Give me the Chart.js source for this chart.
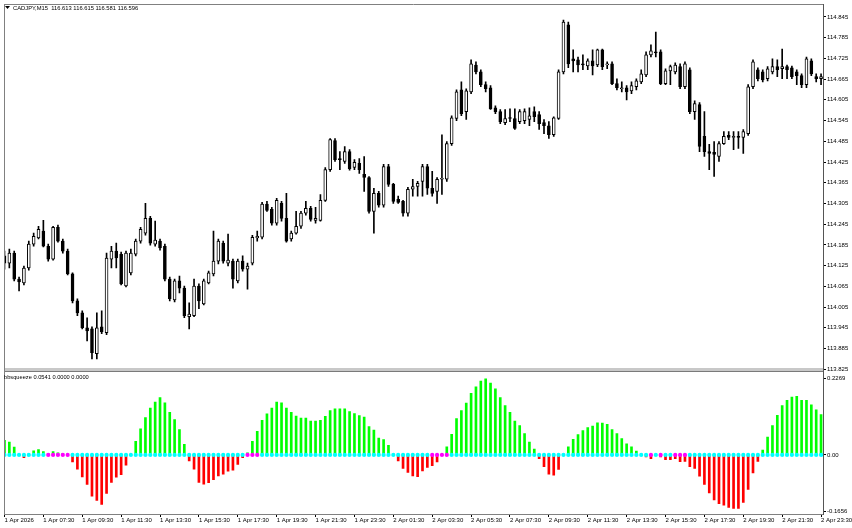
<!DOCTYPE html>
<html lang="en">
<head>
<meta charset="UTF-8">
<title>CADJPY,M15 bbsqueeze</title>
<script src="https://cdn.jsdelivr.net/npm/chart.js@4.4.1/dist/chart.umd.min.js"></script>
<style>
    html, body { margin: 0; padding: 0; background: #ffffff; }
    #wrap { position: relative; width: 852px; height: 528px; }
</style>
</head>
<body>
<div id="wrap"><canvas id="chart" width="852" height="528"></canvas></div>
<script>
// M15 candles, 1 Apr 05:30 .. 2 Apr 23:30
const openP = [
    114.153, 114.132, 114.161, 114.086, 114.075, 114.118, 114.187, 114.205, 114.225, 114.181,
    114.144, 114.236, 114.196, 114.167, 114.101, 114.023, 113.988, 113.945, 113.942, 113.870,
    113.948, 113.931, 114.144, 114.167, 114.158, 114.066, 114.104, 114.158, 114.196, 114.219,
    114.262, 114.187, 114.196, 114.181, 114.086, 114.026, 114.081, 114.060, 113.977, 113.980,
    114.066, 114.014, 114.075, 114.101, 114.138, 114.190, 114.132, 114.138, 114.081, 114.138,
    114.115, 114.132, 114.205, 114.207, 114.303, 114.288, 114.248, 114.305, 114.262, 114.202,
    114.219, 114.239, 114.277, 114.291, 114.256, 114.256, 114.314, 114.403, 114.487, 114.435,
    114.427, 114.455, 114.409, 114.421, 114.389, 114.380, 114.282, 114.334, 114.300, 114.412,
    114.360, 114.317, 114.311, 114.277, 114.346, 114.354, 114.369, 114.412, 114.349, 114.340,
    114.375, 114.375, 114.478, 114.551, 114.634, 114.571, 114.628, 114.706, 114.686, 114.649,
    114.640, 114.582, 114.571, 114.539, 114.553, 114.551, 114.542, 114.545, 114.548, 114.571,
    114.562, 114.539, 114.530, 114.504, 114.551, 114.686, 114.822, 114.724, 114.721, 114.709,
    114.703, 114.718, 114.706, 114.750, 114.706, 114.709, 114.652, 114.637, 114.640, 114.631,
    114.643, 114.657, 114.677, 114.735, 114.744, 114.744, 114.652, 114.689, 114.686, 114.701,
    114.643, 114.692, 114.571, 114.591, 114.499, 114.455, 114.453, 114.441, 114.478, 114.502,
    114.496, 114.499, 114.496, 114.507, 114.643, 114.692, 114.686, 114.666, 114.686, 114.701,
    114.695, 114.701, 114.698, 114.686, 114.675, 114.649, 114.718, 114.672, 114.666
];
const highP = [
    114.167, 114.173, 114.167, 114.092, 114.124, 114.196, 114.219, 114.239, 114.256, 114.187,
    114.239, 114.242, 114.202, 114.173, 114.104, 114.029, 113.994, 113.974, 113.948, 113.988,
    113.994, 114.161, 114.181, 114.190, 114.164, 114.167, 114.173, 114.202, 114.236, 114.305,
    114.268, 114.254, 114.202, 114.187, 114.092, 114.086, 114.095, 114.066, 114.017, 114.086,
    114.072, 114.086, 114.109, 114.225, 114.202, 114.196, 114.216, 114.144, 114.144, 114.153,
    114.132, 114.213, 114.225, 114.308, 114.311, 114.294, 114.320, 114.311, 114.334, 114.225,
    114.282, 114.282, 114.311, 114.297, 114.294, 114.331, 114.409, 114.493, 114.493, 114.455,
    114.470, 114.461, 114.432, 114.435, 114.441, 114.383, 114.349, 114.340, 114.418, 114.418,
    114.363, 114.326, 114.314, 114.352, 114.375, 114.369, 114.418, 114.418, 114.398, 114.380,
    114.504, 114.484, 114.559, 114.634, 114.657, 114.637, 114.721, 114.715, 114.692, 114.657,
    114.646, 114.588, 114.577, 114.577, 114.579, 114.579, 114.577, 114.579, 114.582, 114.585,
    114.571, 114.548, 114.542, 114.556, 114.692, 114.836, 114.830, 114.750, 114.729, 114.735,
    114.724, 114.750, 114.752, 114.752, 114.715, 114.715, 114.666, 114.657, 114.646, 114.657,
    114.666, 114.692, 114.744, 114.764, 114.801, 114.750, 114.695, 114.706, 114.712, 114.709,
    114.715, 114.698, 114.602, 114.597, 114.571, 114.476, 114.484, 114.484, 114.513, 114.513,
    114.513, 114.513, 114.519, 114.649, 114.721, 114.698, 114.692, 114.701, 114.724, 114.721,
    114.752, 114.706, 114.703, 114.692, 114.680, 114.729, 114.724, 114.680, 114.680
];
const lowP = [
    114.115, 114.118, 114.081, 114.052, 114.069, 114.112, 114.181, 114.202, 114.179, 114.138,
    114.141, 114.193, 114.161, 114.098, 114.017, 113.980, 113.942, 113.907, 113.855, 113.855,
    113.928, 113.925, 114.118, 114.118, 114.069, 114.063, 114.098, 114.153, 114.190, 114.213,
    114.184, 114.181, 114.170, 114.081, 114.023, 114.020, 114.046, 113.974, 113.942, 113.977,
    114.000, 114.011, 114.072, 114.095, 114.130, 114.132, 114.124, 114.060, 114.075, 114.109,
    114.057, 114.127, 114.196, 114.202, 114.282, 114.242, 114.242, 114.254, 114.193, 114.196,
    114.216, 114.233, 114.271, 114.254, 114.248, 114.254, 114.311, 114.398, 114.427, 114.403,
    114.421, 114.401, 114.403, 114.392, 114.340, 114.277, 114.219, 114.294, 114.294, 114.354,
    114.305, 114.305, 114.268, 114.268, 114.326, 114.326, 114.326, 114.331, 114.326, 114.305,
    114.331, 114.369, 114.473, 114.545, 114.559, 114.548, 114.623, 114.680, 114.643, 114.628,
    114.577, 114.565, 114.536, 114.533, 114.542, 114.519, 114.536, 114.536, 114.530, 114.542,
    114.519, 114.507, 114.493, 114.499, 114.548, 114.680, 114.698, 114.686, 114.686, 114.692,
    114.692, 114.677, 114.701, 114.692, 114.695, 114.649, 114.634, 114.628, 114.605, 114.623,
    114.634, 114.652, 114.672, 114.729, 114.729, 114.649, 114.649, 114.649, 114.680, 114.637,
    114.637, 114.565, 114.548, 114.455, 114.441, 114.403, 114.383, 114.427, 114.476, 114.490,
    114.461, 114.464, 114.450, 114.502, 114.637, 114.660, 114.657, 114.660, 114.680, 114.672,
    114.666, 114.666, 114.666, 114.649, 114.640, 114.640, 114.675, 114.657, 114.649
];
const closeP = [
    114.132, 114.161, 114.086, 114.078, 114.118, 114.187, 114.210, 114.230, 114.181, 114.144,
    114.236, 114.196, 114.167, 114.101, 114.023, 113.988, 113.945, 113.936, 113.873, 113.945,
    113.933, 114.147, 114.167, 114.147, 114.072, 114.161, 114.161, 114.196, 114.230, 114.262,
    114.190, 114.199, 114.176, 114.086, 114.029, 114.081, 114.060, 113.980, 113.985, 114.066,
    114.023, 114.081, 114.104, 114.138, 114.196, 114.138, 114.141, 114.086, 114.138, 114.115,
    114.124, 114.207, 114.210, 114.303, 114.285, 114.248, 114.314, 114.262, 114.196, 114.219,
    114.239, 114.277, 114.291, 114.259, 114.262, 114.314, 114.403, 114.490, 114.432, 114.432,
    114.455, 114.406, 114.424, 114.403, 114.380, 114.282, 114.334, 114.300, 114.412, 114.360,
    114.311, 114.308, 114.277, 114.346, 114.354, 114.363, 114.412, 114.349, 114.334, 114.375,
    114.378, 114.478, 114.553, 114.628, 114.565, 114.631, 114.709, 114.686, 114.649, 114.637,
    114.579, 114.571, 114.542, 114.551, 114.551, 114.522, 114.571, 114.571, 114.559, 114.556,
    114.536, 114.530, 114.504, 114.553, 114.686, 114.830, 114.709, 114.718, 114.706, 114.706,
    114.718, 114.703, 114.750, 114.701, 114.709, 114.652, 114.640, 114.640, 114.628, 114.646,
    114.660, 114.680, 114.735, 114.747, 114.741, 114.652, 114.689, 114.701, 114.706, 114.643,
    114.709, 114.571, 114.594, 114.470, 114.455, 114.450, 114.447, 114.478, 114.499, 114.496,
    114.499, 114.496, 114.513, 114.643, 114.715, 114.666, 114.663, 114.695, 114.701, 114.692,
    114.701, 114.692, 114.672, 114.675, 114.649, 114.724, 114.680, 114.666, 114.672
];

// bbsqueeze histogram
const squeeze = [
    0.043, 0.038, 0.023, 0, -0.008, 0, 0.012, 0.016, 0.010, 0.003,
    0.010, 0.006, 0.004, 0, -0.021, -0.042, -0.065, -0.087, -0.122, -0.134,
    -0.146, -0.114, -0.081, -0.066, -0.058, -0.030, 0, 0.040, 0.077, 0.110,
    0.138, 0.156, 0.169, 0.154, 0.126, 0.104, 0.075, 0.031, -0.018, -0.042,
    -0.081, -0.086, -0.082, -0.073, -0.062, -0.057, -0.048, -0.045, -0.028, -0.008,
    0.006, 0.040, 0.070, 0.102, 0.121, 0.138, 0.156, 0.154, 0.138, 0.126,
    0.115, 0.109, 0.109, 0.100, 0.100, 0.102, 0.114, 0.131, 0.136, 0.136,
    0.136, 0.128, 0.122, 0.116, 0.112, 0.084, 0.073, 0.050, 0.045, 0.028,
    0, -0.018, -0.040, -0.052, -0.062, -0.064, -0.047, -0.037, -0.032, -0.021,
    0, 0.024, 0.061, 0.107, 0.131, 0.153, 0.182, 0.201, 0.218, 0.225,
    0.212, 0.195, 0.169, 0.146, 0.126, 0.100, 0.087, 0.063, 0.038, 0.017,
    -0.011, -0.035, -0.057, -0.060, -0.043, 0, 0.024, 0.046, 0.060, 0.072,
    0.081, 0.085, 0.095, 0.094, 0.090, 0.075, 0.063, 0.048, 0.033, 0.024,
    0.011, 0, -0.006, -0.011, 0, -0.006, -0.014, -0.014, -0.011, -0.020,
    -0.019, -0.035, -0.040, -0.063, -0.087, -0.112, -0.133, -0.144, -0.148, -0.155,
    -0.158, -0.158, -0.140, -0.102, -0.053, -0.019, 0.014, 0.053, 0.087, 0.117,
    0.146, 0.161, 0.171, 0.173, 0.161, 0.161, 0.148, 0.133, 0.119
];
// bars where the squeeze dot is magenta instead of cyan
const squeezeOn = [9, 10, 11, 12, 13, 50, 51, 52, 88, 89, 90, 91, 133, 135, 138, 139, 140];

const timeTickIdx = [0, 8, 16, 24, 32, 40, 48, 56, 64, 72, 80, 88, 96, 104, 112, 120, 128, 136, 144, 152, 160, 168];
const timeTickText = ['1 Apr 2026', '1 Apr 07:30', '1 Apr 09:30', '1 Apr 11:30', '1 Apr 13:30', '1 Apr 15:30',
    '1 Apr 17:30', '1 Apr 19:30', '1 Apr 21:30', '1 Apr 23:30', '2 Apr 01:30', '2 Apr 03:30', '2 Apr 05:30',
    '2 Apr 07:30', '2 Apr 09:30', '2 Apr 11:30', '2 Apr 13:30', '2 Apr 15:30', '2 Apr 17:30', '2 Apr 19:30',
    '2 Apr 21:30', '2 Apr 23:30'];
const priceTicks = [114.845, 114.785, 114.725, 114.665, 114.605, 114.545, 114.485, 114.425, 114.365,
    114.305, 114.245, 114.185, 114.125, 114.065, 114.005, 113.945, 113.885, 113.825];
const squeezeTicks = [0.2269, 0, -0.1656];
const squeezeTickText = ['0.2269', '0.00', '-0.1656'];

const idx = openP.map((_, i) => i);
const smallFont = { family: 'Liberation Sans', size: 6 };

// frame, pane separator and the two header texts
const framePlugin = {
    id: 'frame',
    afterDraw(chart) {
        const { ctx, chartArea: a } = chart;
        ctx.save();
        ctx.fillStyle = '#c8c8c8';
        ctx.fillRect(a.left, 368, a.right - a.left, 3);
        ctx.fillStyle = '#7a7a7a';
        ctx.fillRect(a.left, 371, a.right - a.left, 1);
        ctx.strokeStyle = '#808080';
        ctx.lineWidth = 1;
        ctx.beginPath();
        ctx.moveTo(a.left + 0.5, a.top);
        ctx.lineTo(a.left + 0.5, a.bottom);
        ctx.moveTo(a.left, a.top + 0.5);
        ctx.lineTo(a.right, a.top + 0.5);
        ctx.stroke();

        ctx.fillStyle = '#000000';
        ctx.beginPath();
        ctx.moveTo(5, 6);
        ctx.lineTo(10, 6);
        ctx.lineTo(7.5, 9);
        ctx.closePath();
        ctx.fill();

        ctx.font = '5.8px "Liberation Sans"';
        ctx.textBaseline = 'middle';
        ctx.fillText('CADJPY,M15  116.613 116.615 116.581 116.596', 13, 8);
        ctx.font = '5.7px "Liberation Sans"';
        ctx.fillText('bbsqueeze 0.0541 0.0000 0.0000', 4, 377);
        ctx.restore();
    }
};

new Chart(document.getElementById('chart'), {
    type: 'bar',
    data: {
        datasets: [
            {
                label: 'body',
                data: idx.map(i => ({ x: i, y: [openP[i], closeP[i]] })),
                backgroundColor: idx.map(i => closeP[i] >= openP[i] ? '#ffffff' : '#000000'),
                borderColor: '#000000',
                borderWidth: 1,
                borderSkipped: false,
                barThickness: 3,
                minBarLength: 1,
                grouped: false,
                yAxisID: 'y',
                order: 1
            },
            {
                label: 'wick',
                data: idx.map(i => ({ x: i, y: [lowP[i], highP[i]] })),
                backgroundColor: '#000000',
                borderWidth: 0,
                barThickness: 1,
                grouped: false,
                yAxisID: 'y',
                order: 2
            },
            {
                label: 'bbsqueeze',
                data: idx.map(i => ({ x: i, y: squeeze[i] })),
                backgroundColor: squeeze.map(v => v >= 0 ? '#00ff00' : '#ff0000'),
                borderWidth: 0,
                barThickness: 2,
                grouped: false,
                yAxisID: 'y2',
                order: 2
            },
            {
                type: 'scatter',
                label: 'squeeze dots',
                data: idx.map(i => ({ x: i, y: 0 })),
                pointRadius: 2.1,
                pointBorderWidth: 0,
                pointBackgroundColor: idx.map(i => squeezeOn.includes(i) ? '#ff00ff' : '#00ffff'),
                yAxisID: 'y2',
                order: 0
            }
        ]
    },
    options: {
        responsive: false,
        animation: false,
        events: [],
        layout: { padding: { top: 2, left: 2, right: 0, bottom: 0 } },
        plugins: { legend: { display: false }, tooltip: { enabled: false } },
        scales: {
            x: {
                type: 'linear',
                position: 'bottom',
                offset: false,
                min: -0.1,
                max: 168.4,
                grid: { display: true, offset: false, drawOnChartArea: false, tickLength: 3, color: '#000000' },
                border: { display: true, color: '#808080' },
                ticks: {
                    align: 'start',
                    autoSkip: false,
                    maxRotation: 0,
                    padding: 0,
                    color: '#000000',
                    font: smallFont,
                    callback: (v, i) => timeTickText[i]
                },
                afterBuildTicks: s => { s.ticks = timeTickIdx.map(v => ({ value: v })); },
                afterFit: s => { s.height = 14; s.paddingLeft = 0; s.paddingRight = 0; }
            },
            y: {
                type: 'linear',
                position: 'right',
                stack: 'panes',
                stackWeight: 367,
                min: 113.824,
                max: 114.8825,
                grid: { display: true, drawOnChartArea: false, tickLength: 3, color: '#000000' },
                border: { display: true, color: '#555555' },
                ticks: {
                    padding: 1,
                    color: '#000000',
                    font: smallFont,
                    callback: v => v.toFixed(3)
                },
                afterBuildTicks: s => { s.ticks = priceTicks.map(v => ({ value: v })); },
                afterFit: s => { s.width = 29; s.paddingTop = 0; s.paddingBottom = 0; }
            },
            y2: {
                type: 'linear',
                position: 'right',
                stack: 'panes',
                stackWeight: 145,
                min: -0.1744,
                max: 0.252,
                grid: { display: true, drawOnChartArea: false, tickLength: 3, color: '#000000' },
                border: { display: true, color: '#555555' },
                ticks: {
                    padding: 1,
                    color: '#000000',
                    font: smallFont,
                    callback: (v, i) => squeezeTickText[i]
                },
                afterBuildTicks: s => { s.ticks = squeezeTicks.map(v => ({ value: v })); },
                afterFit: s => { s.width = 29; s.paddingTop = 0; s.paddingBottom = 0; }
            }
        }
    },
    plugins: [framePlugin]
});
</script>
</body>
</html>
